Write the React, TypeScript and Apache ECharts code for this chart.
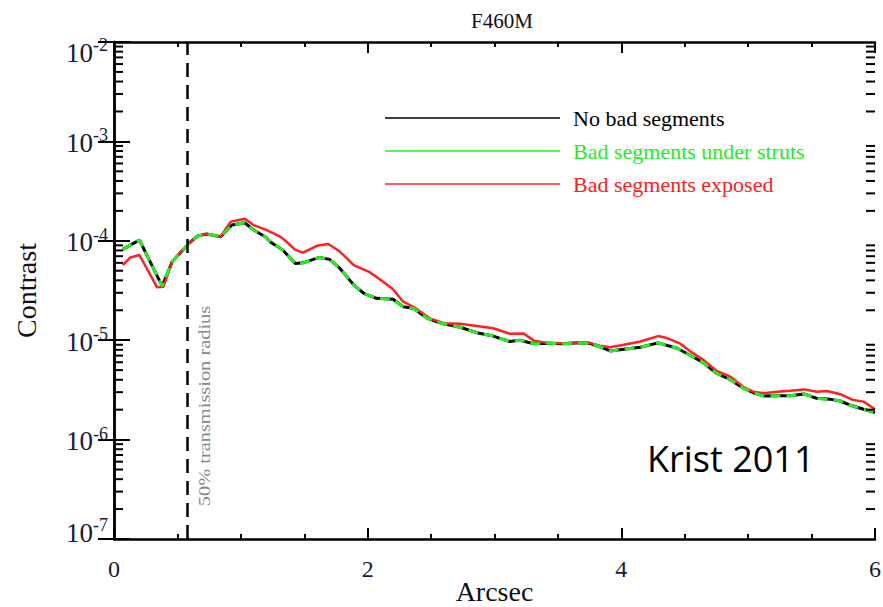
import React, { useEffect, useRef } from "react";
import * as echarts from "echarts";

const seriesNames = ["No bad segments", "Bad segments under struts", "Bad segments exposed"];
const seriesColors = ["#000000", "#22ee22", "#ff2020"];

const noBadX = [0.07, 0.2, 0.38, 0.46, 0.59, 0.66, 0.73, 0.84, 0.93, 1.03, 1.1, 1.2, 1.23, 1.33, 1.43, 1.49, 1.62, 1.7, 1.78, 1.89, 1.97, 2.07, 2.2, 2.28, 2.36, 2.47, 2.58, 2.73, 2.86, 2.99, 3.12, 3.2, 3.31, 3.41, 3.54, 3.67, 3.75, 3.83, 3.91, 4.02, 4.15, 4.29, 4.44, 4.54, 4.65, 4.75, 4.86, 4.96, 5.04, 5.12, 5.23, 5.33, 5.44, 5.54, 5.65, 5.72, 5.8, 5.91, 6.0];
const noBadY = [8.2e-5, 1.02e-4, 3.5e-5, 6.2e-5, 9.4e-5, 1.12e-4, 1.17e-4, 1.1e-4, 1.44e-4, 1.52e-4, 1.29e-4, 1.08e-4, 9.8e-5, 8.1e-5, 5.9e-5, 6.0e-5, 6.8e-5, 6.5e-5, 5.3e-5, 3.6e-5, 2.96e-5, 2.64e-5, 2.58e-5, 2.17e-5, 2.09e-5, 1.66e-5, 1.48e-5, 1.35e-5, 1.19e-5, 1.1e-5, 9.7e-6, 1.0e-5, 9.2e-6, 9.3e-6, 9.2e-6, 9.4e-6, 9.3e-6, 8.6e-6, 7.8e-6, 8.1e-6, 8.5e-6, 9.4e-6, 8.3e-6, 7.1e-6, 5.9e-6, 4.65e-6, 4.0e-6, 3.3e-6, 2.96e-6, 2.75e-6, 2.76e-6, 2.76e-6, 2.88e-6, 2.6e-6, 2.54e-6, 2.46e-6, 2.23e-6, 2.02e-6, 1.87e-6];

const exposedX = [0.07, 0.13, 0.2, 0.34, 0.39, 0.46, 0.59, 0.66, 0.73, 0.84, 0.92, 1.03, 1.1, 1.2, 1.31, 1.34, 1.43, 1.49, 1.6, 1.69, 1.78, 1.89, 2.02, 2.12, 2.2, 2.28, 2.36, 2.49, 2.6, 2.73, 2.86, 2.99, 3.12, 3.23, 3.31, 3.41, 3.54, 3.67, 3.75, 3.83, 3.91, 4.02, 4.15, 4.29, 4.36, 4.46, 4.54, 4.65, 4.75, 4.86, 4.96, 5.04, 5.12, 5.23, 5.33, 5.44, 5.54, 5.62, 5.72, 5.83, 5.91, 6.0];
const exposedY = [5.7e-5, 6.8e-5, 7.2e-5, 3.4e-5, 3.45e-5, 6.2e-5, 9.4e-5, 1.12e-4, 1.17e-4, 1.1e-4, 1.56e-4, 1.67e-4, 1.44e-4, 1.29e-4, 1.1e-4, 1.03e-4, 8.1e-5, 7.6e-5, 8.9e-5, 9.3e-5, 7.8e-5, 5.7e-5, 4.8e-5, 3.9e-5, 3.25e-5, 2.44e-5, 2.17e-5, 1.66e-5, 1.48e-5, 1.46e-5, 1.39e-5, 1.32e-5, 1.16e-5, 1.17e-5, 9.9e-6, 9.4e-6, 9.3e-6, 9.5e-6, 9.4e-6, 8.8e-6, 8.5e-6, 9.0e-6, 9.7e-6, 1.1e-5, 1.05e-5, 9.3e-6, 7.8e-6, 6.3e-6, 4.9e-6, 4.3e-6, 3.4e-6, 3.03e-6, 2.92e-6, 3.03e-6, 3.1e-6, 3.2e-6, 3.03e-6, 3.08e-6, 2.88e-6, 2.5e-6, 2.41e-6, 2.02e-6];

const transmissionRadius = 0.58;
const xMin = 0;
const xMax = 6;
const yMin = 1e-7;
const yMax = 1e-2;
const decadeExponents = [-7, -6, -5, -4, -3];
const minorMantissas = [2, 3, 4, 5, 6, 7, 8, 9];

const SERIF = "'Liberation Serif', 'Times New Roman', serif";
const LABEL_COLOR = "#1a1a33";

export default function App() {
  const ref = useRef<HTMLDivElement>(null);
  useEffect(() => {
    if (!ref.current) return;
    const chart = echarts.init(ref.current, undefined, { renderer: "svg" });
    const noBad = noBadX.map((x, i) => [x, noBadY[i]]);
    const exposed = exposedX.map((x, i) => [x, exposedY[i]]);
    const minorTicks: number[][] = [];
    decadeExponents.forEach((e) => minorMantissas.forEach((m) => minorTicks.push([0, m * Math.pow(10, e)])));

    const axisLine = { show: true, lineStyle: { color: "#000", width: 2.5 } };
    const xAxisCommon = {
      type: "value",
      min: xMin,
      max: xMax,
      interval: 2,
      axisLine,
      axisTick: { show: true, inside: true, length: 11, lineStyle: { color: "#000", width: 2 } },
      minorTick: { show: true, splitNumber: 4, length: 5, lineStyle: { color: "#000", width: 2 } },
      splitLine: { show: false },
    };
    const yAxisCommon = {
      type: "log",
      logBase: 10,
      min: yMin,
      max: yMax,
      splitNumber: 5,
      axisLine,
      axisTick: { show: true, inside: true, length: 16, lineStyle: { color: "#000", width: 2 } },
      minorTick: { show: false },
      splitLine: { show: false },
    };

    const richBase = { fontFamily: SERIF, color: LABEL_COLOR, verticalAlign: "bottom" };

    chart.setOption({
      animation: false,
      backgroundColor: "#ffffff",
      title: {
        text: "F460M",
        left: 497,
        top: 5,
        textAlign: "center",
        textStyle: { fontFamily: SERIF, fontSize: 21, fontWeight: "normal", color: "#111" },
      },
      grid: { left: 114, top: 42, right: 8, bottom: 68, containLabel: false, outerBoundsMode: "none" },
      legend: {
        orient: "vertical",
        left: 385,
        top: 107,
        padding: 0,
        icon: "rect",
        itemWidth: 175,
        itemHeight: 1.6,
        itemGap: 11,
        textStyle: { fontFamily: SERIF, fontSize: 22, lineHeight: 22, padding: [0, 0, 0, 8] },
        data: seriesNames.map((n, i) => ({ name: n, textStyle: { color: seriesColors[i] } })),
      },
      xAxis: [
        {
          ...xAxisCommon,
          position: "bottom",
          name: "Arcsec",
          nameLocation: "middle",
          nameGap: 38,
          nameMoveOverlap: false,
          nameTextStyle: { fontFamily: SERIF, fontSize: 28, color: "#111" },
          axisLabel: { show: true, margin: 18, fontFamily: SERIF, fontSize: 24, color: LABEL_COLOR },
        },
        { ...xAxisCommon, position: "top", axisLabel: { show: false } },
      ],
      yAxis: [
        {
          ...yAxisCommon,
          position: "left",
          name: "Contrast",
          nameLocation: "middle",
          nameGap: 74,
          nameRotate: 90,
          nameMoveOverlap: false,
          nameTextStyle: { fontFamily: SERIF, fontSize: 28, color: "#111" },
          axisLabel: {
            show: true,
            margin: 6,
            formatter: (v: number) => {
              const e = Math.round(Math.log10(v));
              const k = v >= yMax * 0.99 ? "t" : v <= yMin * 1.01 ? "m" : "";
              return `{b${k}|10}{e${k}|${e}}`;
            },
            rich: {
              b: { ...richBase, fontSize: 27 },
              e: { ...richBase, fontSize: 18, padding: [0, 0, 12, 0] },
              bt: { ...richBase, fontSize: 27, padding: [18, 0, 0, 0] },
              et: { ...richBase, fontSize: 18, padding: [18, 0, 12, 0] },
              bm: { ...richBase, fontSize: 27, padding: [0, 0, 16, 0] },
              em: { ...richBase, fontSize: 18, padding: [0, 0, 28, 0] },
            },
          },
        },
        { ...yAxisCommon, position: "right", axisLabel: { show: false } },
      ],
      series: [
        {
          name: seriesNames[0],
          type: "line",
          data: noBad,
          showSymbol: false,
          symbol: "none",
          lineStyle: { color: seriesColors[0], width: 3 },
          itemStyle: { color: seriesColors[0] },
          z: 2,
          markLine: {
            silent: true,
            symbol: "none",
            label: { show: false },
            lineStyle: { color: "#000", width: 2.5, type: [14, 8] },
            data: [{ xAxis: transmissionRadius }],
          },
        },
        {
          name: seriesNames[2],
          type: "line",
          data: exposed,
          showSymbol: false,
          symbol: "none",
          lineStyle: { color: seriesColors[2], width: 2.5 },
          itemStyle: { color: seriesColors[2] },
          z: 3,
        },
        {
          name: seriesNames[1],
          type: "line",
          data: noBad,
          showSymbol: false,
          symbol: "none",
          lineStyle: { color: seriesColors[1], width: 3, type: [10, 6] },
          itemStyle: { color: seriesColors[1] },
          z: 4,
        },
        {
          type: "custom",
          silent: true,
          data: minorTicks,
          clip: false,
          z: 5,
          renderItem: (params: any, api: any) => {
            const v = api.value(1);
            const l = api.coord([xMin, v]);
            const r = api.coord([xMax, v]);
            const style = { stroke: "#000", lineWidth: 2 };
            return {
              type: "group",
              children: [
                { type: "line", shape: { x1: l[0], y1: l[1], x2: l[0] + 9, y2: l[1] }, style },
                { type: "line", shape: { x1: r[0] - 9, y1: r[1], x2: r[0], y2: r[1] }, style },
              ],
            };
          },
        },
      ],
      graphic: [
        {
          type: "text",
          x: 204,
          y: 406,
          rotation: Math.PI / 2,
          scaleX: 1.2,
          style: {
            text: "50% transmission radius",
            fontFamily: SERIF,
            fontSize: 17,
            fill: "#888888",
            align: "center",
            verticalAlign: "middle",
          },
        },
        {
          type: "text",
          left: 647,
          top: 440,
          style: {
            text: "Krist 2011",
            fontFamily: "'Open Sans', 'Noto Sans', sans-serif",
            fontSize: 36,
            fill: "#000",
          },
        },
      ],
    });
    return () => chart.dispose();
  }, []);
  return <div ref={ref} style={{ position: "fixed", left: 0, top: 0, width: 883, height: 607, background: "#fff" }} />;
}
